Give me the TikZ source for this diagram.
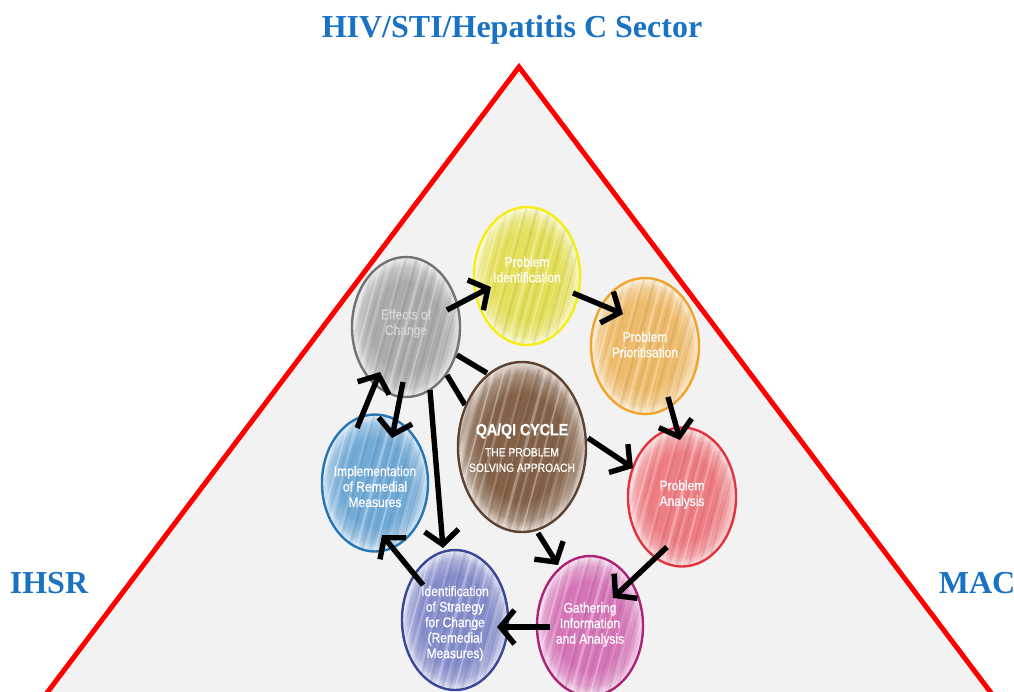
\documentclass[tikz,border=0pt]{standalone}
\usepackage{fontspec}
\setmainfont{Liberation Serif}
\newfontfamily\lblfont[FakeStretch=0.86,FakeBold=0.5]{Liberation Sans}
\usetikzlibrary{shapes.geometric,arrows.meta,calc}

\definecolor{titleblue}{HTML}{1A72C2}
\definecolor{bggray}{HTML}{F2F2F2}
\definecolor{effFill}{HTML}{ABABAB}\definecolor{effLine}{HTML}{737373}
\definecolor{pidFill}{HTML}{E4E05A}\definecolor{pidLine}{HTML}{F4EE14}
\definecolor{priFill}{HTML}{EEBB6A}\definecolor{priLine}{HTML}{F2A42A}
\definecolor{qaFill}{HTML}{846248}\definecolor{qaLine}{HTML}{5E4330}
\definecolor{anaFill}{HTML}{EE7E84}\definecolor{anaLine}{HTML}{E2333F}
\definecolor{impFill}{HTML}{72AAD6}\definecolor{impLine}{HTML}{2576B5}
\definecolor{idsFill}{HTML}{858ECB}\definecolor{idsLine}{HTML}{3A4796}
\definecolor{gatFill}{HTML}{D676B9}\definecolor{gatLine}{HTML}{AC2377}
\colorlet{bcol}{gray}

% solid core that fades to white towards the rim
\pgfdeclareradialshading[bcol]{bubbleshade}{\pgfpointorigin}{%
  color(0bp)=(bcol); color(16bp)=(bcol); color(21.5bp)=(bcol!70!white);
  color(25bp)=(bcol!20!white); color(50bp)=(bcol!20!white)}

% hand-drawn looking diagonal strokes inside each bubble
\newcommand\bubblestreaks{%
  \pgfmathsetseed{11}%
  \foreach \i in {1,...,34}{%
    \pgfmathsetmacro\off{-95+5.2*\i+4*rnd}%
    \pgfmathsetmacro\wd{0.8+3.2*rnd}%
    \pgfmathsetmacro\op{0.12+0.30*rnd}%
    \ifodd\i
      \draw[white, opacity=\op, line width=\wd, line cap=round]
        ($(path picture bounding box.south)+(\off-28,8)$) -- ++(46,-170);
    \else
      \draw[bcol!65!black, opacity=0.6*\op, line width=\wd, line cap=round]
        ($(path picture bounding box.south)+(\off-28,8)$) -- ++(46,-170);
    \fi
  }%
}

\tikzset{
  bubble color/.code={\colorlet{bcol}{#1}},
  bubble/.style n args={2}{ellipse, draw=#1, line width=2.4, inner sep=0pt,
    bubble color=#2, shading=bubbleshade, path picture={\bubblestreaks}},
  lbl/.style={text=white, align=center, font=\lblfont\fontsize{14}{15.5}\selectfont},
  corner/.style={text=titleblue, font=\bfseries\fontsize{32}{36}\selectfont},
  arr/.style={draw=black, line width=5.4, -{Straight Barb[length=14pt,width=34pt]}},
  link/.style={draw=black, line width=5.4},
}

\begin{document}
\begin{tikzpicture}[x=1pt,y=-1pt]
\useasboundingbox (0,0) rectangle (1014,691);

% the red triangle
\begin{scope}
  \clip (0,0) rectangle (1014,691);
  \draw[red, line width=5, fill=bggray, line join=miter]
    (519,67) -- (1010,718) -- (28,718) -- cycle;
\end{scope}

% corner titles
\node[corner] (hiv) at (512,30) {HIV/STI/Hepatitis C Sector};
\node[corner] (ihsr) at (49,583) {IHSR};
\node[corner] (mac) at (977,583) {MAC};

% the bubbles of the cycle
\node[bubble={effLine}{effFill}, minimum width=108, minimum height=140] (eff) at (406,327) {};
\node[bubble={pidLine}{pidFill}, minimum width=106, minimum height=138] (pid) at (527,276) {};
\node[bubble={priLine}{priFill}, minimum width=108, minimum height=136] (pri) at (645,346) {};
\node[bubble={anaLine}{anaFill}, minimum width=108, minimum height=139] (ana) at (682,497) {};
\node[bubble={impLine}{impFill}, minimum width=106, minimum height=137] (imp) at (375,483) {};
\node[bubble={idsLine}{idsFill}, minimum width=106, minimum height=140] (ids) at (455,620) {};
\node[bubble={gatLine}{gatFill}, minimum width=106, minimum height=140] (gat) at (590,626) {};

% the two plain links from Effects of Change to the centre
\draw[link] ([shift={(51,28)}]eff.center) -- ([shift={(-35,-74)}]522,447);
\draw[link] ([shift={(41,48)}]eff.center) -- ([shift={(-57,-42)}]522,447);

\node[bubble={qaLine}{qaFill}, minimum width=128, minimum height=170] (qa) at (522,447) {};

% bubble texts
\node[lbl, text=white!84!black] (effT) at ([yshift=3.5]eff.center) {Effects of\\Change};
\node[lbl] (pidT) at ([yshift=6.5]pid.center) {Problem\\Identification};
\node[lbl] (priT) at ([yshift=1.5]pri.center) {Problem\\Prioritisation};
\node[lbl] (anaT) at ([yshift=2.5]ana.center) {Problem\\Analysis};
\node[lbl] (impT) at ([yshift=-3.5]imp.center) {Implementation\\of Remedial\\Measures};
\node[lbl] (idsT) at ([yshift=-3.5]ids.center) {Identification\\of Strategy\\for Change\\(Remedial\\Measures)};
\node[lbl] (gatT) at ([yshift=1.5]gat.center) {Gathering\\Information\\and Analysis};
\node[lbl, font=\lblfont\bfseries\fontsize{16.5}{20}\selectfont] (qaT) at ([yshift=16]qa.center) {QA/QI CYCLE};
\node[lbl, font=\lblfont\fontsize{12}{15.5}\selectfont] (qaS) at ([yshift=-13]qa.center) {THE PROBLEM\\SOLVING APPROACH};

% cycle arrows
\draw[arr] ([shift={(41,-17)}]eff.center) -- ([shift={(-36,11)}]pid.center);
\draw[arr] ([shift={(46,17)}]pid.center)  -- ([shift={(-22,-32)}]pri.center);
\draw[arr] ([shift={(23,51)}]pri.center)  -- ([shift={(-2,-57)}]ana.center);
\draw[arr] ([shift={(66,-9)}]qa.center)   -- ([shift={(-49,-29)}]ana.center);
\draw[arr] ([shift={(-15,50)}]ana.center) -- ([shift={(23,-28)}]gat.center);
\draw[arr] ([shift={(16,86)}]qa.center)   -- ([shift={(-32,-61)}]gat.center);
\draw[arr] ([shift={(-40,1)}]gat.center)  -- ([shift={(42,7)}]ids.center);
\draw[arr] ([shift={(-32,-35)}]ids.center) -- ([shift={(7,52)}]imp.center);
\draw[arr] ([shift={(-18,-55)}]imp.center) -- ([shift={(-26,45)}]eff.center);
\draw[arr] ([shift={(-3,55)}]eff.center)  -- ([shift={(17,-45)}]imp.center);
\draw[arr] ([shift={(24,63)}]eff.center)  -- ([shift={(-12,-72)}]ids.center);
\end{tikzpicture}
\end{document}
